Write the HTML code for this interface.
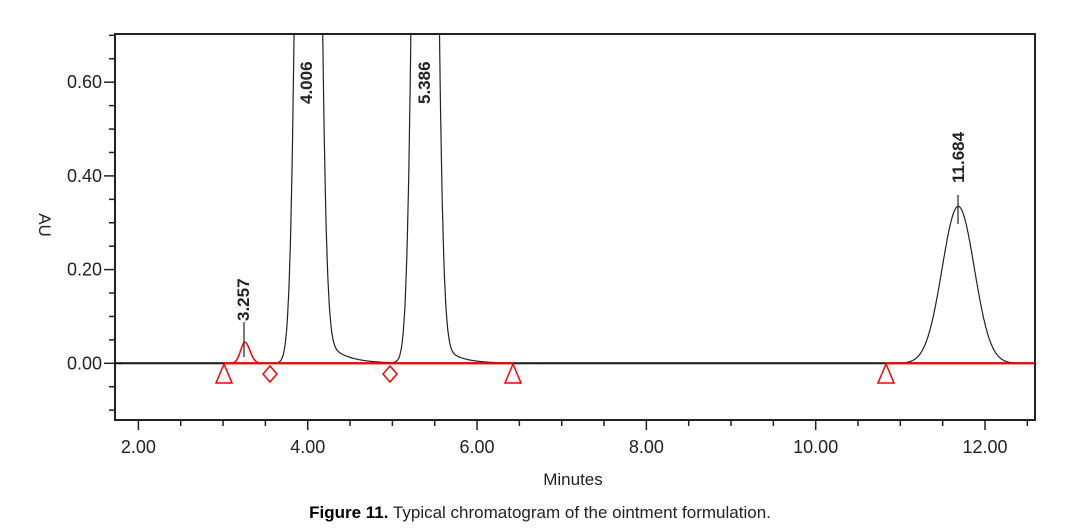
<!DOCTYPE html>
<html><head><meta charset="utf-8"><style>
body{margin:0;background:#fff;width:1090px;height:532px;overflow:hidden}
svg{display:block}
text{font-family:"Liberation Sans",sans-serif;fill:#222}
</style></head><body>
<svg id="s" width="1090" height="532" xmlns="http://www.w3.org/2000/svg">
<defs><clipPath id="c"><rect x="115" y="34" width="920" height="386"/></clipPath></defs>
<g id="axes" stroke="#222" stroke-width="2" fill="none">
<path d="M115,34 H1035 V420 H115 Z"/>
</g>
<g id="ticks" stroke="#222" stroke-width="1.5"></g>
<g id="lab" font-size="18"></g>
<line x1="115" y1="363.3" x2="1035" y2="363.3" stroke="#000" stroke-width="2"/>
<path id="tr" clip-path="url(#c)" fill="none" stroke="#222" stroke-width="1.2"/>
<g stroke="#f00" stroke-width="2"><line x1="224" y1="363.3" x2="513" y2="363.3"/><line x1="886" y1="363.3" x2="1035" y2="363.3"/></g>
<path id="tr2" fill="none" stroke="#f00" stroke-width="1.5"/>
<g fill="none" stroke="#f00" stroke-width="1.5">
<polygon points="224,364 216,383 232,383"/>
<polygon points="513,364 505,383 521,383"/>
<polygon points="886,364 878,383 894,383"/>
<polygon points="270,366 277,374 270,382 263,374"/>
<polygon points="390,366 397,374 390,382 383,374"/>
</g>
<g stroke="#222" stroke-width="1.2">
<line x1="244" y1="322" x2="244" y2="357"/>
<line x1="958" y1="195" x2="958" y2="224"/>
</g>
<g font-size="17" font-weight="bold" clip-path="url(#c)">
<text transform="translate(249,321) rotate(-90)">3.257</text>
<text transform="translate(312,104) rotate(-90)">4.006</text>
<text transform="translate(430,104) rotate(-90)">5.386</text>
<text transform="translate(964,183) rotate(-90)">11.684</text>
</g>
<text x="573" y="485" font-size="17" text-anchor="middle">Minutes</text>
<text transform="translate(39,225) rotate(90)" font-size="17" text-anchor="middle">AU</text>
<text x="540" y="518" font-size="17" text-anchor="middle"><tspan font-weight="bold" fill="#000">Figure 11.</tspan> Typical chromatogram of the ointment formulation.</text>
</svg>
<script>
const fx=t=>138.4+(t-2)*84.66, fy=v=>363.3-v*468.5;
const NS="http://www.w3.org/2000/svg";
const tk=document.getElementById('ticks'), lb=document.getElementById('lab');
function L(x1,y1,x2,y2){const l=document.createElementNS(NS,'line');l.setAttribute('x1',x1);l.setAttribute('y1',y1);l.setAttribute('x2',x2);l.setAttribute('y2',y2);tk.appendChild(l);}
function T(x,y,s,a){const t=document.createElementNS(NS,'text');t.setAttribute('x',x);t.setAttribute('y',y);t.setAttribute('text-anchor',a);t.textContent=s;lb.appendChild(t);}
for(let t=1.5;t<=12.5;t+=0.5){const x=fx(t);if(x<115||x>1035)continue;const maj=Math.abs(t-Math.round(t/2)*2)<1e-6;L(x,420,x,maj?430:426);if(maj)T(x,453,t.toFixed(2),'middle');}
for(let i=-2;i<=14;i++){const v=i*0.05,y=fy(v);if(y<34||y>420)continue;const maj=i%4==0;L(115,y,maj?104:109,y);if(maj)T(102,y+6,v.toFixed(2),'end');}
function g(t,c,h,sl,sr,tail,tt){let d=t-c;let v=h*Math.exp(-d*d/(2*(d<0?sl*sl:sr*sr)));if(d>0&&tail)v+=tail*Math.exp(-d/tt)*(1-Math.exp(-d/0.08));return v;}
function f(t){return g(t,4.006,4,0.09,0.09,0.12,0.22)+g(t,5.386,4,0.09,0.09,0.1,0.2)+g(t,11.684,0.335,0.19,0.19,0,1);}
let p="";for(let t=1.8;t<=12.45;t+=0.005){p+=(p?"L":"M")+fx(t).toFixed(1)+","+fy(f(t)).toFixed(1);}
document.getElementById('tr').setAttribute('d',p);
let q="";for(let t=3.05;t<=3.5;t+=0.005){const d=t-3.257;const v=0.045*Math.exp(-d*d/(2*(d<0?0.05:0.06)**2));q+=(q?"L":"M")+fx(t).toFixed(1)+","+fy(v).toFixed(1);}
document.getElementById('tr2').setAttribute('d',q);
</script>
</body></html>
